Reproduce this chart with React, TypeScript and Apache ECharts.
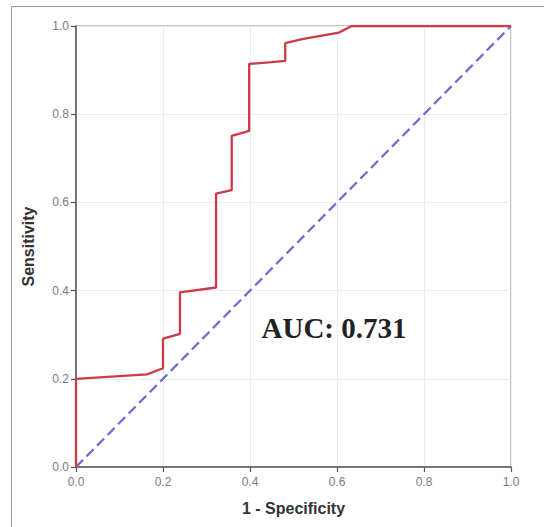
import React, { useEffect, useRef } from "react";
import * as echarts from "echarts";

const fpr = [0, 0, 0.163, 0.2, 0.2, 0.239, 0.239, 0.322, 0.322, 0.358, 0.358, 0.398, 0.398, 0.45, 0.481, 0.481, 0.52, 0.604, 0.634, 1.0];
const tpr = [0, 0.2, 0.21, 0.224, 0.291, 0.302, 0.396, 0.407, 0.62, 0.628, 0.751, 0.762, 0.914, 0.918, 0.921, 0.961, 0.97, 0.985, 1.0, 1.0];
const refX = [0, 1];
const refY = [0, 1];
const ticks = [0, 0.2, 0.4, 0.6, 0.8, 1.0];
const aucLabel = "AUC: 0.731";
const xTitle = "1 - Specificity";
const yTitle = "Sensitivity";

export default function App() {
  const ref = useRef<HTMLDivElement>(null);
  useEffect(() => {
    document.body.style.margin = "0";
    const chart = echarts.init(ref.current!, undefined, { renderer: "svg" });
    const tickLabel = {
      color: "#7a7a7a",
      fontSize: 12,
      fontFamily: "Liberation Sans, Arial, sans-serif",
      formatter: (v: number) => v.toFixed(1),
    };
    const axisCommon = {
      type: "value" as const,
      min: ticks[0],
      max: ticks[ticks.length - 1],
      interval: 0.2,
      axisLine: { show: true, lineStyle: { color: "#555", width: 1.5 } },
      axisTick: { show: true, inside: false, length: 5, lineStyle: { color: "#555", width: 1.2 } },
      splitLine: { show: true, lineStyle: { color: "#ececec", width: 1 } },
      nameTextStyle: {
        color: "#333",
        fontSize: 16,
        fontWeight: "bold" as const,
        fontFamily: "Liberation Sans, Arial, sans-serif",
      },
      nameLocation: "middle" as const,
    };
    chart.setOption({
      animation: false,
      backgroundColor: "#fff",
      grid: {
        left: 76,
        right: 33,
        top: 26,
        bottom: 60,
        show: true,
        borderColor: "#8a8a8a",
        borderWidth: 1,
      },
      xAxis: {
        ...axisCommon,
        name: xTitle,
        nameGap: 33,
        axisLabel: { ...tickLabel, margin: 9 },
      },
      yAxis: {
        ...axisCommon,
        name: yTitle,
        nameGap: 40,
        axisLabel: { ...tickLabel, margin: 7 },
      },
      graphic: [
        {
          type: "rect",
          shape: { x: 11.5, y: 6.5, width: 540, height: 530 },
          style: { fill: "none", stroke: "#9a9a9a", lineWidth: 1 },
          silent: true,
        },
        {
          type: "text",
          x: 334,
          y: 328,
          style: {
            text: aucLabel,
            fill: "#222",
            font: "bold 29px 'Liberation Serif', 'Times New Roman', serif",
            textAlign: "center",
            textVerticalAlign: "middle",
          },
          silent: true,
        },
      ],
      series: [
        {
          type: "line",
          data: refX.map((x, i) => [x, refY[i]]),
          showSymbol: false,
          lineStyle: { color: "#6f6fcc", width: 2.3, type: [10, 5] },
          z: 2,
        },
        {
          type: "line",
          data: fpr.map((x, i) => [x, tpr[i]]),
          showSymbol: false,
          lineStyle: { color: "#cc3a48", width: 2.3 },
          z: 3,
        },
      ],
    });
    return () => chart.dispose();
  }, []);
  return <div ref={ref} style={{ width: 544, height: 527 }} />;
}
